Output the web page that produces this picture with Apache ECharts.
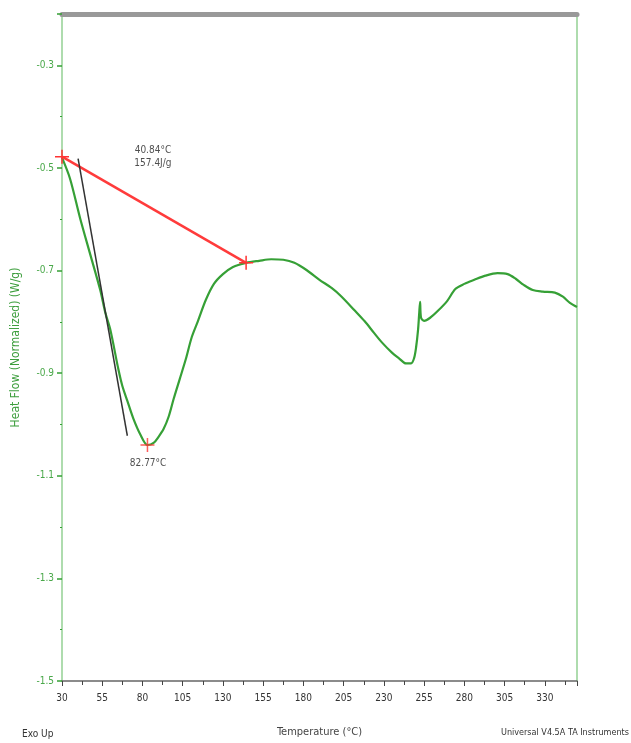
<!DOCTYPE html>
<html><head><meta charset="utf-8">
<script src="https://cdn.jsdelivr.net/npm/echarts@6/dist/echarts.min.js"></script>
<style>html,body{margin:0;padding:0;background:#fff}#c{width:631px;height:743px}</style>
</head><body><div id="c"></div>
<script>
// Temperature (°C) and heat flow (W/g)
const temps = [30,35,41.25,47.5,53.75,56.9,60,65,67.5,70.6,74.4,78.75,83.1,86.9,90,93.1,96.25,99.4,103.1,106.9,110.6,114.4,119.4,124.4,130,136.25,144.4,152.5,160,167.5,174.4,181.9,190,197.5,203.75,211.9,218.1,223.75,228.75,235,239.4,243.75,246.9,248.75,250,251.25,251.9,252.5,253.1,255,258.75,263.75,269.4,274.4,280,286.25,293.1,300.6,306.9,311.9,316.9,322.5,328.75,336.25,341.25,345.6,350];
const heatFlow = [-0.480,-0.521,-0.598,-0.668,-0.738,-0.782,-0.815,-0.892,-0.925,-0.954,-0.989,-1.020,-1.040,-1.036,-1.024,-1.009,-0.985,-0.950,-0.912,-0.873,-0.830,-0.799,-0.757,-0.726,-0.707,-0.693,-0.685,-0.681,-0.678,-0.679,-0.685,-0.699,-0.718,-0.734,-0.751,-0.778,-0.799,-0.821,-0.840,-0.860,-0.871,-0.881,-0.881,-0.871,-0.850,-0.815,-0.786,-0.761,-0.792,-0.798,-0.792,-0.778,-0.759,-0.736,-0.726,-0.718,-0.710,-0.705,-0.707,-0.716,-0.728,-0.738,-0.741,-0.743,-0.751,-0.763,-0.771];
// Integration baseline (red) and onset tangent (black)
const baselineT = [30, 144.4];
const baselineV = [-0.478, -0.685];
const tangentT = [40, 70.6];
const tangentV = [-0.482, -1.022];
const peakT = 83.1, peakV = -1.040;
const annot1 = {t: 86.5, v: -0.478, text: '40.84°C\n157.4J/g'};
const annot2 = {t: 83.5, v: -1.075, text: '82.77°C'};
const xTicks = {min: 30, max: 350, interval: 25};
const yTicks = {min: -1.5, max: -0.2, interval: 0.2};

const green = '#36a036';
const lightGreen = '#93d193';
const narrow = "'Liberation Sans Narrow','DejaVu Sans Condensed',Arial,sans-serif";
const plus = 'path://M-1,0L1,0M0,-1L0,1';

const chart = echarts.init(document.getElementById('c'));
chart.setOption({
  animation: false,
  backgroundColor: '#fff',
  grid: {left: 62, right: 54, top: 14, bottom: 60},
  xAxis: [{
    type: 'value', min: xTicks.min, max: xTicks.max, interval: xTicks.interval,
    axisLine: {lineStyle: {color: '#666', width: 1.5}},
    axisTick: {length: 5, lineStyle: {color: '#444'}},
    minorTick: {show: true, splitNumber: 2, length: 4, lineStyle: {color: '#444'}},
    axisLabel: {color: '#333', fontSize: 10, fontFamily: narrow, margin: 12, showMaxLabel: false},
    splitLine: {show: false},
    name: 'Temperature (°C)', nameLocation: 'middle', nameGap: 46,
    nameTextStyle: {color: '#444', fontSize: 11, fontFamily: narrow}
  }, {
    type: 'value', position: 'top', min: xTicks.min, max: xTicks.max,
    axisLine: {lineStyle: {color: '#999', width: 5}},
    axisTick: {show: false}, axisLabel: {show: false}, splitLine: {show: false}
  }],
  yAxis: [{
    type: 'value', min: yTicks.min, max: yTicks.max, interval: yTicks.interval,
    axisLine: {show: true, lineStyle: {color: lightGreen, width: 1.5}},
    axisTick: {show: true, length: 5, lineStyle: {color: green, width: 1.5}},
    minorTick: {show: true, splitNumber: 2, length: 2, lineStyle: {color: green}},
    axisLabel: {color: '#4aa84a', fontSize: 10, fontFamily: narrow, margin: 8,
      showMaxLabel: false, formatter: v => v.toFixed(1)},
    splitLine: {show: false},
    name: 'Heat Flow (Normalized) (W/g)', nameLocation: 'middle', nameGap: 40,
    nameTextStyle: {color: '#3d9e3d', fontSize: 12, fontFamily: narrow}
  }, {
    type: 'value', position: 'right', min: yTicks.min, max: yTicks.max,
    axisLine: {show: true, lineStyle: {color: lightGreen, width: 1.5}},
    axisTick: {show: false}, axisLabel: {show: false}, splitLine: {show: false}
  }],
  series: [{
    type: 'line', data: temps.map((t, i) => [t, heatFlow[i]]),
    showSymbol: false, smooth: 0.3, lineStyle: {color: green, width: 2.2}, z: 3
  }, {
    type: 'line', data: baselineT.map((t, i) => [t, baselineV[i]]),
    symbol: plus, symbolSize: 14, showSymbol: true,
    itemStyle: {color: 'none', borderColor: '#ff3333', borderWidth: 1.5},
    lineStyle: {color: '#ff3b3b', width: 2.5}, z: 4
  }, {
    type: 'line', data: tangentT.map((t, i) => [t, tangentV[i]]),
    symbol: 'none', lineStyle: {color: '#333', width: 1.5}, z: 5
  }, {
    type: 'scatter', data: [[peakT, peakV]], symbol: plus, symbolSize: 14,
    itemStyle: {color: 'none', borderColor: '#ff3333', borderWidth: 1.5}, z: 6
  }, {
    type: 'scatter', symbolSize: 0,
    data: [[annot1.t, annot1.v, annot1.text], [annot2.t, annot2.v, annot2.text]],
    label: {show: true, position: 'inside', formatter: p => p.data[2],
      color: '#222', fontSize: 10, fontFamily: narrow, lineHeight: 13}
  }],
  graphic: [
    {type: 'text', left: 22, top: 729, style: {text: 'Exo Up', fill: '#333', fontSize: 10, fontFamily: narrow}},
    {type: 'text', right: 2, top: 728, style: {text: 'Universal V4.5A TA Instruments', fill: '#333', fontSize: 9, fontFamily: narrow}}
  ]
});
</script></body></html>
